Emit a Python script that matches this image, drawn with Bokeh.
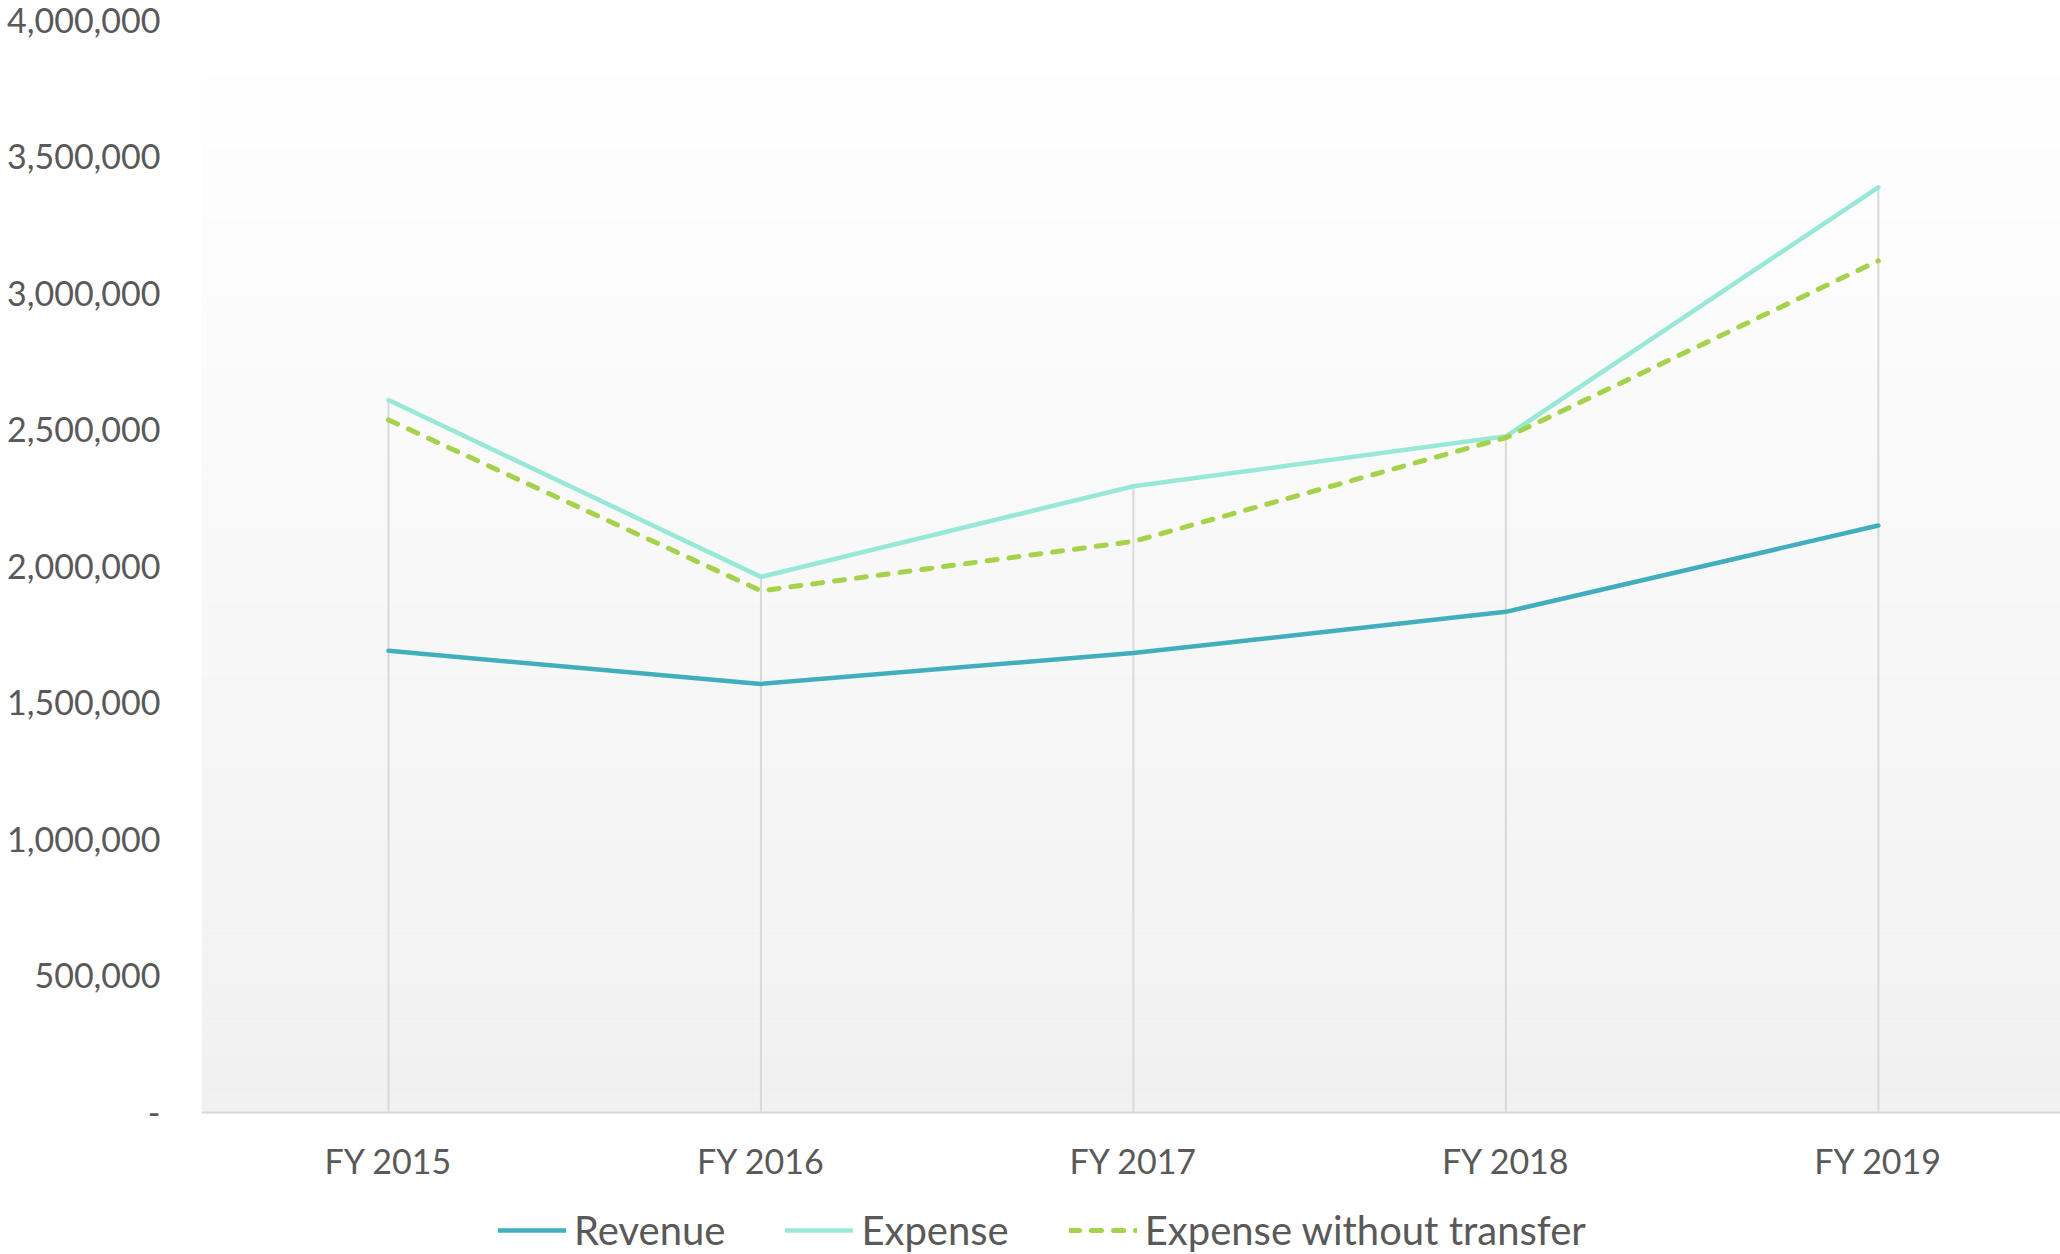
import numpy as np
from bokeh.plotting import figure
from bokeh.models import Range1d, FixedTicker, NumeralTickFormatter, Legend
from bokeh.embed import file_html
from bokeh.resources import INLINE

# ---- data ----
years = ["FY 2015", "FY 2016", "FY 2017", "FY 2018", "FY 2019"]
revenue = [1691000, 1570000, 1683000, 1834000, 2150000]
expense = [2610000, 1962000, 2294000, 2477000, 3389000]
expense_wo_transfer = [2537000, 1911000, 2092000, 2472000, 3120000]
y_ticks = [0, 500000, 1000000, 1500000, 2000000, 2500000, 3000000, 3500000, 4000000]

TEXT = "#595959"
FONT = "Lato"

idx = list(range(len(years)))
x_lo, x_hi = -0.502, 4.489
y_top = 4000000
y_bottom = -520147   # extra room under the value axis for labels + legend

p = figure(width=2060, height=1254, output_backend="svg", toolbar_location=None,
           x_range=Range1d(x_lo, x_hi), y_range=Range1d(y_bottom, y_top),
           min_border_left=201, min_border_right=0, min_border_top=20,
           min_border_bottom=0)
p.outline_line_color = None
p.background_fill_color = "white"
p.border_fill_color = "white"
p.xgrid.visible = False
p.ygrid.visible = False

# gradient plot-area background (white at top -> light grey at bottom)
n = 60
edges = np.linspace(0, y_top, n + 1)
shade = np.linspace(241, 255, n)
cols = []
for s in shade:
    v = int(round(s))
    cols.append("#%02x%02x%02x" % (v, v, v))
p.quad(left=x_lo, right=x_hi, bottom=edges[:-1], top=edges[1:],
       fill_color=cols, line_color=None)

# drop lines
tops = [max(a, b, c) for a, b, c in zip(revenue, expense, expense_wo_transfer)]
p.segment(x0=idx, y0=[0] * len(idx), x1=idx, y1=tops, line_color="#d9d9d9", line_width=2)

r_rev = p.line(idx, revenue, line_color="#41aebd", line_width=4.5, line_join="round", line_cap="round")
r_exp = p.line(idx, expense, line_color="#98e8d7", line_width=4.5, line_join="round", line_cap="round")
r_ewt = p.line(idx, expense_wo_transfer, line_color="#a5d24a", line_width=5,
               line_dash="10 12", line_join="round", line_cap="round")

# axes
xa = p.xaxis[0]
xa.fixed_location = 0
xa.ticker = FixedTicker(ticks=idx)
xa.major_label_overrides = {i: y for i, y in zip(idx, years)}
xa.axis_line_color = "#d9d9d9"
xa.axis_line_width = 2
xa.major_tick_line_color = None
xa.minor_tick_line_color = None
xa.major_label_standoff = 22
xa.major_label_text_font = FONT
xa.major_label_text_font_size = "34px"
xa.major_label_text_color = TEXT

ya = p.yaxis[0]
ya.ticker = FixedTicker(ticks=y_ticks)
ya.formatter = NumeralTickFormatter(format="0,0")
ya.major_label_overrides = {0: "-"}
ya.axis_line_color = None
ya.major_tick_line_color = None
ya.minor_tick_line_color = None
ya.major_label_standoff = 35
ya.major_label_text_font = FONT
ya.major_label_text_font_size = "34px"
ya.major_label_text_color = TEXT

legend = Legend(items=[("Revenue", [r_rev]), ("Expense", [r_exp]),
                       ("Expense without transfer", [r_ewt])],
                orientation="horizontal", location=(297, 0),
                padding=0, margin=0, spacing=60, label_standoff=8,
                glyph_width=68, glyph_height=30,
                label_text_font=FONT, label_text_font_size="40px",
                label_text_color=TEXT, background_fill_alpha=0,
                border_line_color=None)
p.add_layout(legend, "center")

open("out.html", "w").write(file_html(p, INLINE))
